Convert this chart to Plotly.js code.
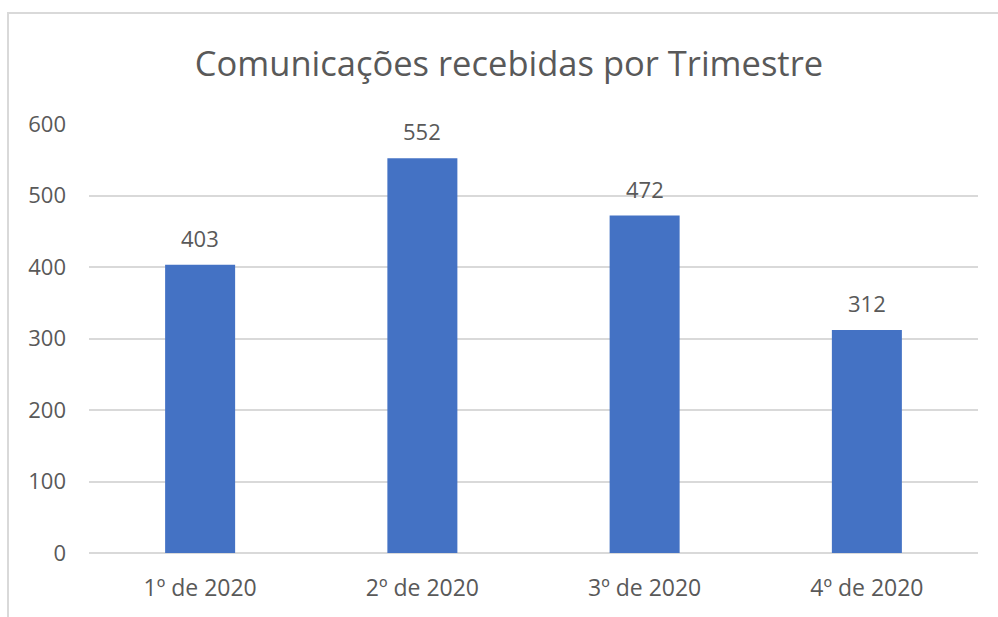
<!DOCTYPE html>
<html>
<head>
<meta charset="utf-8">
<script src="https://cdn.plot.ly/plotly-3.0.1.min.js"></script>
<style>
html,body{margin:0;padding:0;background:#fff;}
#chart{width:998px;height:617px;}
</style>
</head>
<body>
<div id="chart"></div>
<script>
const categories = ["1º de 2020", "2º de 2020", "3º de 2020", "4º de 2020"];
const values = [403, 552, 472, 312];
const yTicks = [0, 100, 200, 300, 400, 500, 600];
const chartTitle = "Comunicações recebidas por Trimestre";

const textColor = "#595959";
const gridColor = "#d9d9d9";
const barColor = "#4472c4";
const fontFam = "'Open Sans', sans-serif";

const trace = {
  type: "bar",
  x: categories,
  y: values,
  marker: {color: barColor, line: {width: 0}},
  hoverinfo: "skip"
};

const annotations = categories.map((c, i) => ({
  x: c, y: values[i], xref: "x", yref: "y",
  text: String(values[i]),
  showarrow: false,
  yanchor: "bottom",
  yshift: 10,
  font: {family: fontFam, size: 22, color: textColor}
}));

const layout = {
  width: 998, height: 617,
  margin: {l: 89, r: 20, t: 124, b: 64},
  paper_bgcolor: "#fff",
  plot_bgcolor: "#fff",
  showlegend: false,
  bargap: 0.685,
  title: {
    text: chartTitle,
    font: {family: fontFam, size: 34.5, color: textColor},
    x: 0.51, xanchor: "center",
    y: 1 - 64/617, yanchor: "middle", yref: "container"
  },
  xaxis: {
    type: "category",
    showgrid: false,
    showline: false,
    ticks: "",
    tickfont: {family: fontFam, size: 23, color: textColor},
    ticklabelstandoff: 19
  },
  yaxis: {
    range: [0, 600],
    tickvals: yTicks,
    ticktext: yTicks.map(String),
    showgrid: true,
    gridcolor: gridColor,
    gridwidth: 2,
    zeroline: true,
    zerolinecolor: gridColor,
    zerolinewidth: 2,
    showline: false,
    ticks: "",
    ticklabelstandoff: 22,
    tickfont: {family: fontFam, size: 22, color: textColor}
  },
  annotations: annotations,
  shapes: [{
    type: "rect", xref: "paper", yref: "paper",
    x0: (8-89)/889, x1: (1010-89)/889,
    y0: (553-630)/429, y1: (553-13)/429,
    line: {color: gridColor, width: 2},
    fillcolor: "rgba(0,0,0,0)",
    layer: "below"
  }]
};

Plotly.newPlot("chart", [trace], layout, {displayModeBar: false, staticPlot: true});
</script>
</body>
</html>
